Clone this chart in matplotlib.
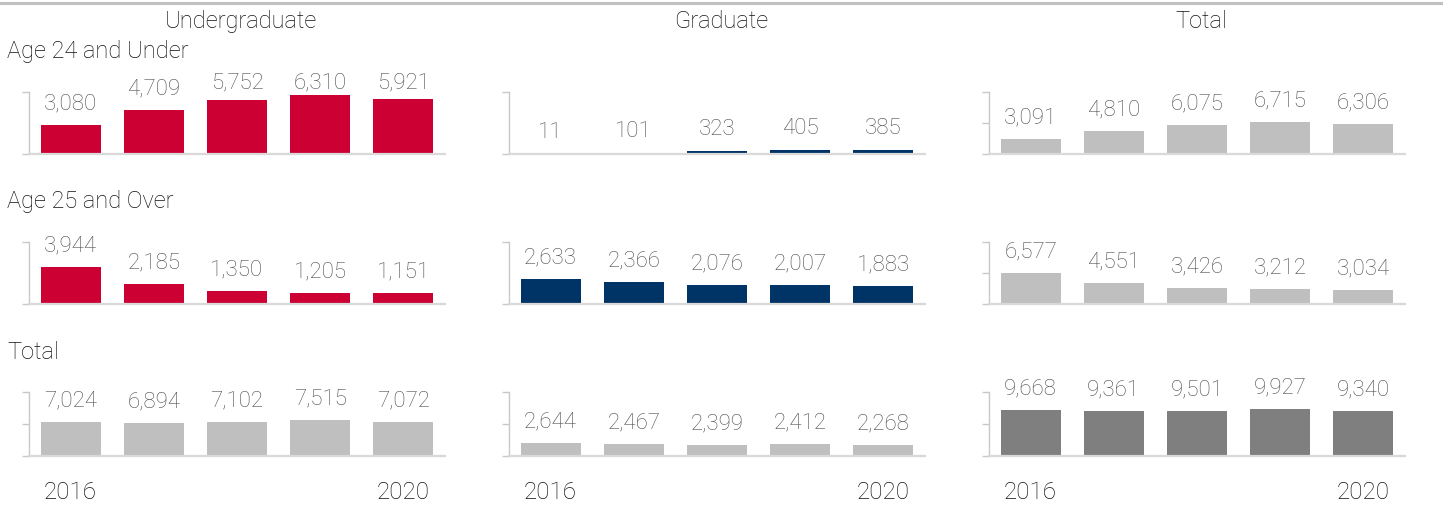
import numpy as np
import matplotlib.pyplot as plt
from matplotlib.lines import Line2D
from matplotlib import font_manager

# prefer a light sans if one is installed
light_families = [f.name for f in font_manager.fontManager.ttflist
                  if f.weight in (200, 300, "light", "extra light")]
LIGHT_FONT = None
for name in ["Roboto", "Lato", "Open Sans", "Inter", "Noto Sans"]:
    if name in light_families:
        LIGHT_FONT = name
        break

plt.rcParams['font.family'] = [LIGHT_FONT or 'Liberation Sans', 'DejaVu Sans']
plt.rcParams['font.weight'] = 'light'

years = ["2016", "2017", "2018", "2019", "2020"]
col_titles = ["Undergraduate", "Graduate", "Total"]
row_titles = ["Age 24 and Under", "Age 25 and Over", "Total"]

ug_24_under = [3080, 4709, 5752, 6310, 5921]
grad_24_under = [11, 101, 323, 405, 385]
total_24_under = [3091, 4810, 6075, 6715, 6306]

ug_25_over = [3944, 2185, 1350, 1205, 1151]
grad_25_over = [2633, 2366, 2076, 2007, 1883]
total_25_over = [6577, 4551, 3426, 3212, 3034]

ug_total = [7024, 6894, 7102, 7515, 7072]
grad_total = [2644, 2467, 2399, 2412, 2268]
all_total = [9668, 9361, 9501, 9927, 9340]

grid = [
    [ug_24_under, grad_24_under, total_24_under],
    [ug_25_over, grad_25_over, total_25_over],
    [ug_total, grad_total, all_total],
]

RED = "#cc0033"
NAVY = "#003366"
LIGHT = "#bfbfbf"
DARK = "#7f7f7f"
colors = [
    [RED, NAVY, LIGHT],
    [RED, NAVY, LIGHT],
    [LIGHT, LIGHT, DARK],
]

W, H, DPI = 1448, 506, 100
fig = plt.figure(figsize=(W / DPI, H / DPI), dpi=DPI)

def pxbox(x0, top, w, h):
    return [x0 / W, 1 - (top + h) / H, w / W, h / H]

# axes placement in pixels: top edge and height of each row
row_tops = [92.5, 242.5, 393.0]
row_heights = [62.0, 62.5, 64.0]
col_lefts = [29.0, 509.0, 989.0]
ax_width = 416.0

half_scale = 6700
full_scale = 13400
text_dark = "#111111"
label_grey = "#4d4d4d"
pt = 72.0 / DPI

x = np.arange(len(years))
for r in range(3):
    for c in range(3):
        vals = grid[r][c]
        ax = fig.add_axes(pxbox(col_lefts[c], row_tops[r], ax_width, row_heights[r]))
        is_total = (r == 2) or (c == 2)
        ymax = full_scale if is_total else half_scale
        ax.bar(x, vals, width=0.72, color=colors[r][c])
        ax.set_xlim(-0.5, 4.5)
        ax.set_ylim(0, ymax)

        for s in ["top", "right"]:
            ax.spines[s].set_visible(False)
        ax.spines["left"].set_color("#c8c8c8")
        ax.spines["left"].set_linewidth(1.0)
        ax.spines["bottom"].set_color("#d9d9d9")
        ax.spines["bottom"].set_linewidth(1.6)

        ticks = [0, half_scale, full_scale] if is_total else [0, half_scale]
        ax.set_yticks(ticks)
        ax.set_yticklabels([])
        ax.tick_params(axis="y", direction="out", length=7 * pt, width=1.0, color="#c8c8c8")

        if r == 2:
            ax.set_xticks([0, 4])
            ax.set_xticklabels([years[0], years[-1]], fontsize=17.5, color=text_dark)
            ax.tick_params(axis="x", length=0, pad=17)
        else:
            ax.set_xticks([])

        # value labels sit a fixed distance above each bar, capped near the top
        ax_h = row_heights[r]
        for i, v in enumerate(vals):
            bar_px = v / ymax * ax_h
            base_px = min(bar_px + 16.5, 66.5)
            ax.annotate(f"{v:,}", xy=(i, 0), xytext=(0, base_px * pt),
                        textcoords="offset points", ha="center", va="baseline",
                        fontsize=16, color=label_grey, annotation_clip=False)

for c, title in enumerate(col_titles):
    fig.text((241 + 480 * c) / W, 1 - 28 / H, title, ha="center", va="baseline",
             fontsize=17, color=text_dark)

for r, (title, base) in enumerate(zip(row_titles, [58, 208, 359])):
    fig.text(7 / W, 1 - base / H, title, ha="left", va="baseline",
             fontsize=17, color=text_dark)

fig.add_artist(Line2D([0, 1441 / W], [1 - 4 / H, 1 - 4 / H], color="#c0c0c0", lw=2.2))

fig.savefig("out.png", dpi=DPI)
